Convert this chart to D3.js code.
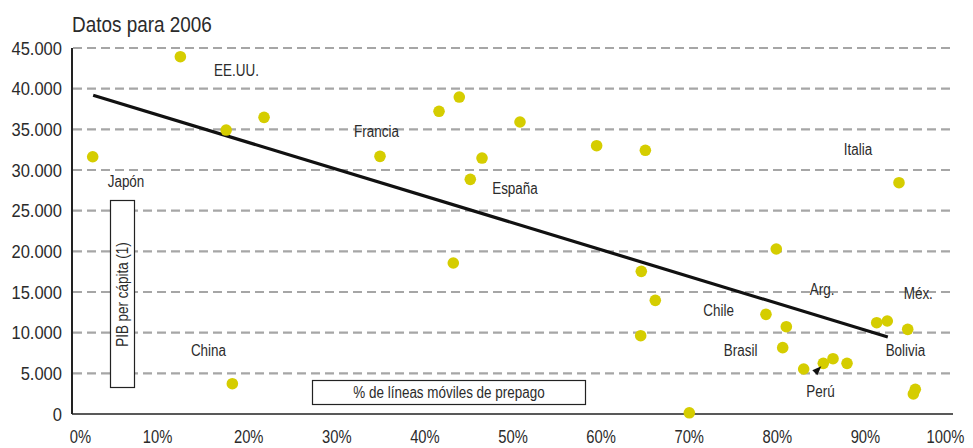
<!DOCTYPE html>
<html>
<head>
<meta charset="utf-8">
<script src="https://cdn.jsdelivr.net/npm/d3@7"></script>
<style>
  html, body { margin: 0; padding: 0; background: #fff; }
  svg { display: block; font-family: "Liberation Sans", Arial, sans-serif; }
</style>
</head>
<body>
<svg id="chart" width="973" height="448"></svg>
<script>
// Prepaid mobile lines (%) vs GDP per capita, 2006
const prepaidShare = [2.35, 12.3, 17.5, 21.8, 18.2, 34.96, 41.66, 43.96, 50.85, 46.54, 45.21, 59.55, 65.08,
  43.28, 64.62, 66.21, 64.55, 70.07, 79.94, 78.77, 81.08, 80.67, 83.05, 85.28, 86.38, 87.97,
  91.34, 92.54, 94.86, 95.72, 95.5, 93.87];
const gdpPerCapita = [31630, 43930, 34915, 36475, 3725, 31680, 37215, 38970, 35900, 31470, 28850, 32990, 32420,
  18565, 17540, 13975, 9625, 150, 20285, 12255, 10735, 8155, 5530, 6230, 6800, 6230,
  11225, 11435, 10410, 3035, 2460, 28440];

// Fitted trend line endpoints [share %, GDP]
const trendStart = [2.4, 39200];
const trendEnd = [92.6, 9470];

// Country names with their anchor in data units [share %, GDP]
const countryNames = ["EE.UU.", "Japón", "China", "Francia", "España", "Italia", "Chile", "Brasil", "Arg.", "Méx.", "Bolivia", "Perú"];
const nameShare = [18.67, 6.13, 15.49, 34.56, 50.28, 89.22, 73.4, 75.9, 85.15, 96.06, 94.6, 84.96];
const nameGdp = [42290, 28645, 7782, 34706, 27698, 32542, 12786, 7868, 15331, 14839, 7868, 2742];

const yTicks = [0, 5000, 10000, 15000, 20000, 25000, 30000, 35000, 40000, 45000];
const xTicks = [0, 10, 20, 30, 40, 50, 60, 70, 80, 90, 100];

const title = "Datos para 2006";
const yTitle = "PIB per cápita (1)";
const xTitle = "% de líneas móviles de prepago";

const svg = d3.select("#chart");
const plotLeft = 72, plotRight = 953, plotTop = 48, plotBottom = 414;

const x = d3.scaleLinear().domain([0, 100]).range([plotLeft, plotRight]);
const y = d3.scaleLinear().domain([0, 45000]).range([plotBottom, plotTop]);

const textColor = "#2b2b2b";
const dotColor = "#d5cd00";

// Squeeze text horizontally for a condensed typeface look
function condense(sel, k) {
  sel.each(function () {
    const w = this.getComputedTextLength();
    d3.select(this).attr("textLength", w * k).attr("lengthAdjust", "spacingAndGlyphs");
  });
}

// Title
svg.append("text")
  .attr("x", plotLeft).attr("y", 32)
  .attr("font-size", 21.5).attr("fill", textColor)
  .text(title)
  .call(condense, 0.88);

// Dashed horizontal gridlines
svg.append("g")
  .selectAll("line")
  .data(yTicks.filter(d => d > 0))
  .join("line")
  .attr("x1", plotLeft + 1).attr("x2", plotRight)
  .attr("y1", d => y(d)).attr("y2", d => y(d))
  .attr("stroke", "#a6a6a6").attr("stroke-width", 2.2)
  .attr("stroke-dasharray", "9,5");

// Y axis (labels only, with a solid spine)
const fmt = d => d === 0 ? "0" : d3.format(",")(d).replace(/,/g, ".");
const yAxis = svg.append("g")
  .attr("transform", `translate(${plotLeft},0)`)
  .call(d3.axisLeft(y).tickValues(yTicks).tickFormat(fmt).tickSize(0).tickPadding(10));
yAxis.select(".domain").remove();
yAxis.selectAll("text").attr("font-size", 19).attr("fill", textColor)
  .attr("font-family", "Liberation Sans, Arial, sans-serif")
  .call(condense, 0.87);
svg.append("line")
  .attr("x1", plotLeft).attr("x2", plotLeft).attr("y1", y(45000)).attr("y2", y(0))
  .attr("stroke", "#222").attr("stroke-width", 2);

// X axis
const xAxis = svg.append("g")
  .attr("transform", `translate(0,${plotBottom})`)
  .call(d3.axisBottom(x).tickValues(xTicks).tickFormat(d => d + "%").tickSize(0).tickPadding(16.5));
xAxis.select(".domain").remove();
xAxis.selectAll("text").attr("font-size", 18).attr("fill", textColor)
  .attr("font-family", "Liberation Sans, Arial, sans-serif")
  .call(condense, 0.82);
xAxis.selectAll(".tick").filter(d => d === 0).select("text").attr("dx", 8);
xAxis.selectAll(".tick").filter(d => d === 10).select("text").attr("dx", -3);
xAxis.selectAll(".tick").filter(d => d === 100).select("text").attr("dx", -8);
svg.append("line")
  .attr("x1", plotLeft).attr("x2", plotRight).attr("y1", y(0)).attr("y2", y(0))
  .attr("stroke", "#222").attr("stroke-width", 1.6);

// Axis title boxes
const yBox = { x: 110.5, y: 200.5, w: 24, h: 187 };
svg.append("rect")
  .attr("x", yBox.x).attr("y", yBox.y).attr("width", yBox.w).attr("height", yBox.h)
  .attr("fill", "#fff").attr("stroke", "#222").attr("stroke-width", 1.2);
svg.append("text")
  .attr("transform", `translate(${yBox.x + yBox.w / 2},${yBox.y + yBox.h / 2 + 0.5}) rotate(-90)`)
  .attr("text-anchor", "middle").attr("dy", "0.35em")
  .attr("font-size", 16).attr("fill", textColor)
  .text(yTitle)
  .call(condense, 0.84);

const xBox = { x: 312.5, y: 380.5, w: 273, h: 24 };
svg.append("rect")
  .attr("x", xBox.x).attr("y", xBox.y).attr("width", xBox.w).attr("height", xBox.h)
  .attr("fill", "#fff").attr("stroke", "#222").attr("stroke-width", 1.2);
svg.append("text")
  .attr("x", xBox.x + xBox.w / 2).attr("y", xBox.y + xBox.h / 2)
  .attr("text-anchor", "middle").attr("dy", "0.35em")
  .attr("font-size", 16).attr("fill", textColor)
  .text(xTitle)
  .call(condense, 0.84);

// Trend line
svg.append("line")
  .attr("x1", x(trendStart[0])).attr("y1", y(trendStart[1]))
  .attr("x2", x(trendEnd[0])).attr("y2", y(trendEnd[1]))
  .attr("stroke", "#111").attr("stroke-width", 3.2);

// Country dots
svg.append("g")
  .selectAll("circle")
  .data(prepaidShare.map((s, i) => ({ s, g: gdpPerCapita[i] })))
  .join("circle")
  .attr("cx", d => x(d.s)).attr("cy", d => y(d.g))
  .attr("r", 5.8)
  .attr("fill", dotColor);

// Country names
svg.append("g")
  .selectAll("text")
  .data(countryNames.map((n, i) => ({ n, s: nameShare[i], g: nameGdp[i] })))
  .join("text")
  .attr("x", d => x(d.s)).attr("y", d => y(d.g))
  .attr("text-anchor", "middle").attr("dy", "0.35em")
  .attr("font-size", 16).attr("fill", textColor)
  .text(d => d.n)
  .call(condense, 0.84);

// Small pointer from the "Perú" label to its dot
const peru = { s: 85.28, g: 6230 };
const tipX = x(peru.s) - 2, tipY = y(peru.g) + 3;
svg.append("path")
  .attr("d", `M${tipX},${tipY} L${tipX - 9},${tipY + 4} L${tipX - 4},${tipY + 9} Z`)
  .attr("fill", "#111");
</script>
</body>
</html>
